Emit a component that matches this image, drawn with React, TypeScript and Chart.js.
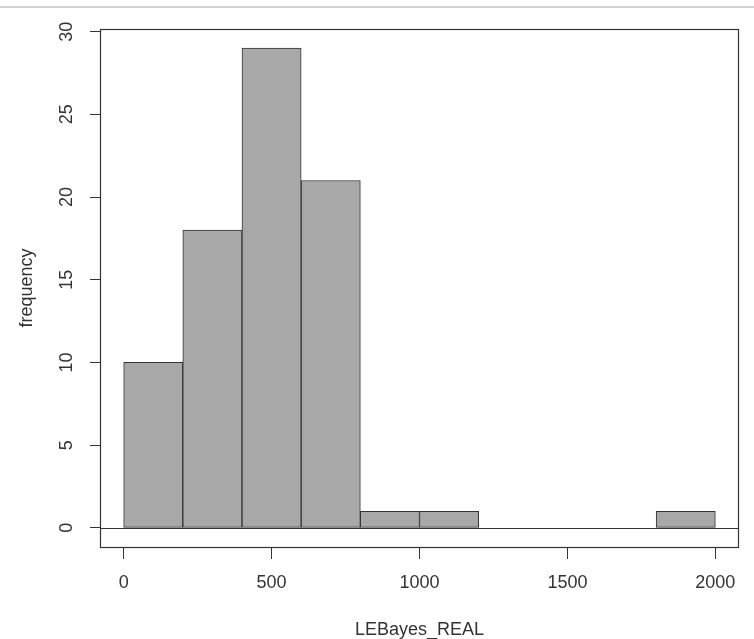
import React, { useEffect, useRef } from "react";
import { Chart, registerables } from "chart.js";

Chart.register(...registerables);

const binEdges = [0, 200, 400, 600, 800, 1000, 1200, 1400, 1600, 1800, 2000];
const counts = [10, 18, 29, 21, 1, 1, 0, 0, 0, 1];
const xTicks = [0, 500, 1000, 1500, 2000];
const yTicks = [0, 5, 10, 15, 20, 25, 30];
const xLabel = "LEBayes_REAL";
const yLabel = "frequency";

const FONT = "'Liberation Sans', Arial, sans-serif";
const INK = "#333333";

export default function App() {
  const ref = useRef<HTMLCanvasElement | null>(null);

  useEffect(() => {
    if (!ref.current) return;
    const xMin = binEdges[0];
    const xMax = binEdges[binEdges.length - 1];
    const xPad = (xMax - xMin) * 0.04;
    const yMaxData = Math.max(...counts);
    const yPad = yMaxData * 0.04;

    const boxPlugin = {
      id: "rbox",
      afterDraw(chart: any) {
        const { ctx, chartArea } = chart;
        const ys = chart.scales.y;
        const l = Math.round(chartArea.left) + 0.5;
        const r = Math.round(chartArea.right) - 0.5;
        const t = Math.round(chartArea.top) + 0.5;
        const b = Math.round(chartArea.bottom) + 0.5;
        ctx.save();
        ctx.strokeStyle = INK;
        ctx.lineWidth = 1.2;
        ctx.strokeRect(l, t, r - l, b - t);
        const y0 = Math.round(ys.getPixelForValue(0)) + 0.5;
        ctx.beginPath();
        ctx.moveTo(l, y0);
        ctx.lineTo(r, y0);
        ctx.stroke();
        ctx.fillStyle = INK;
        ctx.font = `18px ${FONT}`;
        ctx.textAlign = "center";
        ctx.textBaseline = "middle";
        for (const tk of ys.ticks) {
          const py = ys.getPixelForValue(tk.value);
          ctx.save();
          ctx.translate(chartArea.left - 33, py);
          ctx.rotate(-Math.PI / 2);
          ctx.fillText(String(tk.value), 0, 0);
          ctx.restore();
        }
        ctx.restore();
      },
    };

    const chart = new Chart(ref.current, {
      type: "bar",
      data: {
        datasets: [
          {
            data: counts.map((c, i) => ({ x: (binEdges[i] + binEdges[i + 1]) / 2, y: c })),
            backgroundColor: "#a8a8a8",
            borderColor: INK,
            borderWidth: 1,
            borderSkipped: false,
            barPercentage: 1,
            categoryPercentage: 1,
          } as any,
        ],
      },
      options: {
        animation: false,
        responsive: false,
        devicePixelRatio: 1,
        layout: { padding: { top: 29, right: 15, left: 0, bottom: 0 } },
        plugins: { legend: { display: false }, tooltip: { enabled: false } },
        scales: {
          x: {
            type: "linear",
            offset: false,
            min: xMin - xPad,
            max: xMax + xPad,
            afterBuildTicks: (s: any) => {
              s.ticks = xTicks.map((v) => ({ value: v }));
            },
            afterFit: (s: any) => {
              s.height = 92;
            },
            ticks: {
              color: INK,
              font: { family: FONT, size: 18 },
              padding: 13,
              maxRotation: 0,
              minRotation: 0,
              autoSkip: false,
              callback: (v: any) => String(v),
            },
            grid: {
              display: true,
              offset: false,
              drawOnChartArea: false,
              drawTicks: true,
              tickLength: 12,
              color: INK,
              lineWidth: 1,
            },
            border: { display: false },
            title: {
              display: true,
              text: xLabel,
              color: INK,
              font: { family: FONT, size: 18 },
              padding: { top: 0, bottom: -2 },
            },
          },
          y: {
            type: "linear",
            min: -yPad,
            max: yMaxData + yPad,
            afterBuildTicks: (s: any) => {
              s.ticks = yTicks.map((v) => ({ value: v }));
            },
            afterFit: (s: any) => {
              s.width = 100;
            },
            ticks: { display: false },
            grid: {
              display: true,
              drawOnChartArea: false,
              drawTicks: true,
              tickLength: 10,
              color: INK,
              lineWidth: 1,
            },
            border: { display: false },
            title: {
              display: true,
              text: yLabel,
              color: INK,
              font: { family: FONT, size: 18 },
              padding: { top: 16, bottom: 0 },
            },
          },
        },
      } as any,
      plugins: [boxPlugin],
    });
    return () => chart.destroy();
  }, []);

  return (
    <div style={{ position: "absolute", left: 0, top: 0, width: 754, height: 639, background: "#ffffff" }}>
      <div style={{ position: "absolute", left: 0, top: 6, width: 754, height: 2, background: "#d2d2d2" }} />
      <canvas ref={ref} width={754} height={639} style={{ display: "block", width: 754, height: 639 }} />
    </div>
  );
}
